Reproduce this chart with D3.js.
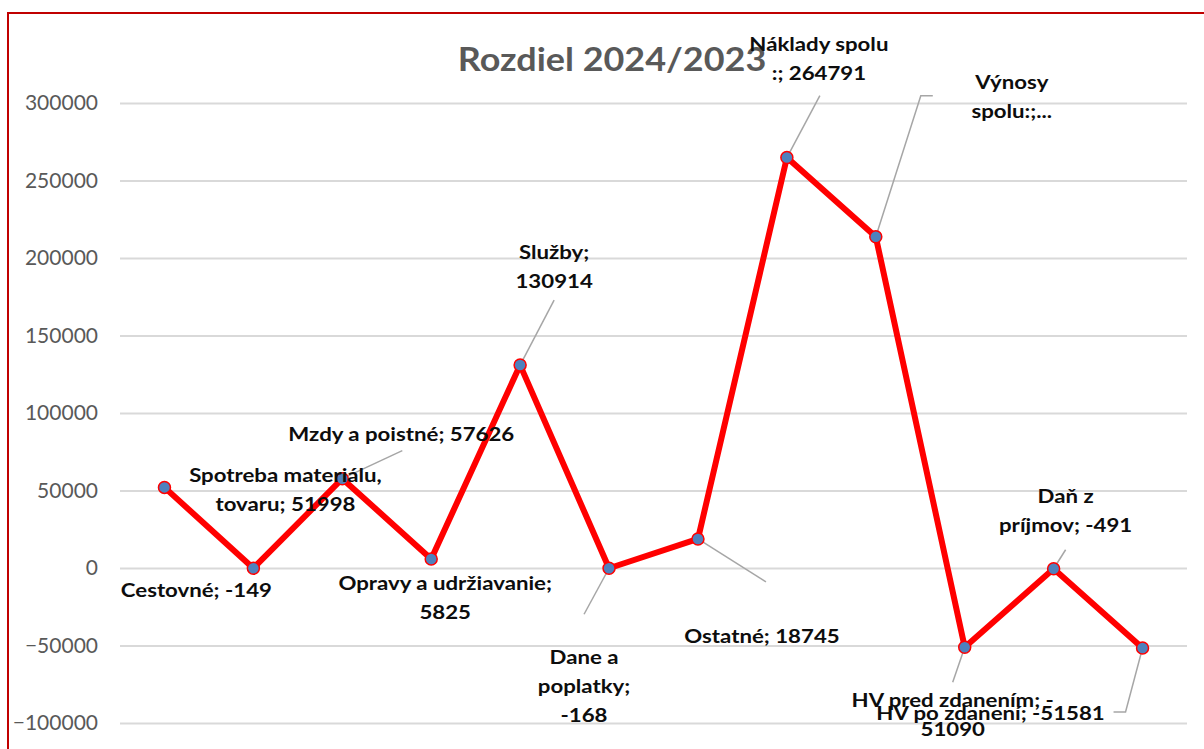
<!DOCTYPE html>
<html>
<head>
<meta charset="utf-8">
<script src="https://cdn.jsdelivr.net/npm/d3@7"></script>
<style>
  body { margin: 0; background: #fff; }
  svg { display: block; }
</style>
</head>
<body>
<div id="chart"></div>
<script>
// Data
const categories = [
  'Spotreba materiálu, tovaru', 'Cestovné', 'Mzdy a poistné', 'Opravy a udržiavanie',
  'Služby', 'Dane a poplatky', 'Ostatné', 'Náklady spolu :', 'Výnosy spolu:',
  'HV pred zdanením', 'Daň z príjmov', 'HV po zdanení'
];
const values = [51998, -149, 57626, 5825, 130914, -168, 18745, 264791, 213701, -51090, -491, -51581];
const labelLines = [
  ['Spotreba materiálu,', 'tovaru; 51998'],
  ['Cestovné; -149'],
  ['Mzdy a poistné; 57626'],
  ['Opravy a udržiavanie;', '5825'],
  ['Služby;', '130914'],
  ['Dane a', 'poplatky;', '-168'],
  ['Ostatné; 18745'],
  ['Náklady spolu', ':; 264791'],
  ['Výnosy', 'spolu:;...'],
  ['HV pred zdanením; -', '51090'],
  ['Daň z', 'príjmov; -491'],
  ['HV po zdanení; -51581']
];
const yTicks = [-100000, -50000, 0, 50000, 100000, 150000, 200000, 250000, 300000];
const title = 'Rozdiel 2024/2023';

// Label placement (offset from the point) and leader line bends
const labelLayout = [
  { dx: 121, dy: -5, leader: null },
  { dx: -57, dy: 29, leader: null },
  { dx: 59, dy: -38, leader: [[60, -28]] },
  { dx: 14, dy: 31, leader: null },
  { dx: 34, dy: -106, leader: [[34, -65]] },
  { dx: -25, dy: 96, leader: [[-25, 46]] },
  { dx: 64, dy: 104, leader: [[68, 43]] },
  { dx: 32, dy: -107, leader: [[33, -62]] },
  { dx: 136, dy: -148, leader: [[45, -141], [57, -141]] },
  { dx: -12, dy: 60, leader: [[-12, 35]] },
  { dx: 12, dy: -66, leader: [[12, -19]] },
  { dx: -152, dy: 72, leader: [[-17, 64], [-29, 64]] }
];

const width = 1204, height = 749;
const plot = { left: 120, right: 1187, top: 103, bottom: 723 };
const font = 'Lato, "Open Sans", sans-serif';
const lineHeight = 29;
// the reference label lettering is a little wider than Lato, so stretch it
const stretch = 1.17;

const svg = d3.select('#chart').append('svg')
  .attr('width', width)
  .attr('height', height);

// chart frame (only the top and left edges are in view)
svg.append('rect')
  .attr('x', 8).attr('y', 13)
  .attr('width', 1230).attr('height', 800)
  .attr('fill', '#fff')
  .attr('stroke', '#c00000')
  .attr('stroke-width', 2);

const x = d3.scalePoint()
  .domain(categories)
  .range([plot.left, plot.right])
  .padding(0.5);

const y = d3.scaleLinear()
  .domain([-100000, 300000])
  .range([plot.bottom, plot.top]);

// gridlines + tick labels
const yAxis = svg.append('g')
  .attr('transform', `translate(${plot.left},0)`)
  .call(d3.axisLeft(y)
    .tickValues(yTicks)
    .tickSize(-(plot.right - plot.left))
    .tickPadding(22)
    .tickFormat(d3.format('d')));

yAxis.select('.domain').remove();
yAxis.selectAll('.tick line')
  .attr('stroke', '#d9d9d9')
  .attr('stroke-width', 2);
yAxis.selectAll('.tick text')
  .attr('fill', '#595959')
  .attr('font-family', font)
  .attr('font-size', 21);

// title
svg.append('text')
  .attr('transform', 'translate(612,71) scale(1.09,1)')
  .attr('text-anchor', 'middle')
  .attr('font-family', font)
  .attr('font-weight', 'bold')
  .attr('font-size', 33)
  .attr('fill', '#595959')
  .text(title);

const points = values.map((v, i) => ({ cat: categories[i], value: v, i }));

// leader lines
svg.append('g')
  .selectAll('path')
  .data(points.filter(d => labelLayout[d.i].leader))
  .join('path')
  .attr('d', d => {
    const px = x(d.cat), py = y(d.value);
    const pts = [[px, py]].concat(labelLayout[d.i].leader.map(p => [px + p[0], py + p[1]]));
    return d3.line()(pts);
  })
  .attr('fill', 'none')
  .attr('stroke', '#a6a6a6')
  .attr('stroke-width', 1.5);

// series line
svg.append('path')
  .datum(points)
  .attr('d', d3.line().x(d => x(d.cat)).y(d => y(d.value)))
  .attr('fill', 'none')
  .attr('stroke', '#ff0000')
  .attr('stroke-width', 6)
  .attr('stroke-linejoin', 'round');

// markers
svg.append('g')
  .selectAll('circle')
  .data(points)
  .join('circle')
  .attr('cx', d => x(d.cat))
  .attr('cy', d => y(d.value))
  .attr('r', 6)
  .attr('fill', '#4f81bd')
  .attr('stroke', '#ff0000')
  .attr('stroke-width', 1.5);

// data labels
const labels = svg.append('g')
  .selectAll('text')
  .data(points)
  .join('text')
  .attr('transform', d => {
    const lx = x(d.cat) + labelLayout[d.i].dx;
    const ly = y(d.value) + labelLayout[d.i].dy;
    return `translate(${lx},${ly}) scale(${stretch},1)`;
  })
  .attr('text-anchor', 'middle')
  .attr('font-family', font)
  .attr('font-weight', 'bold')
  .attr('font-size', 19)
  .attr('fill', '#0d0d0d');

labels.selectAll('tspan')
  .data(d => labelLines[d.i])
  .join('tspan')
  .attr('x', 0)
  .attr('dy', (t, j) => j === 0 ? 0 : lineHeight)
  .text(t => t);
</script>
</body>
</html>
